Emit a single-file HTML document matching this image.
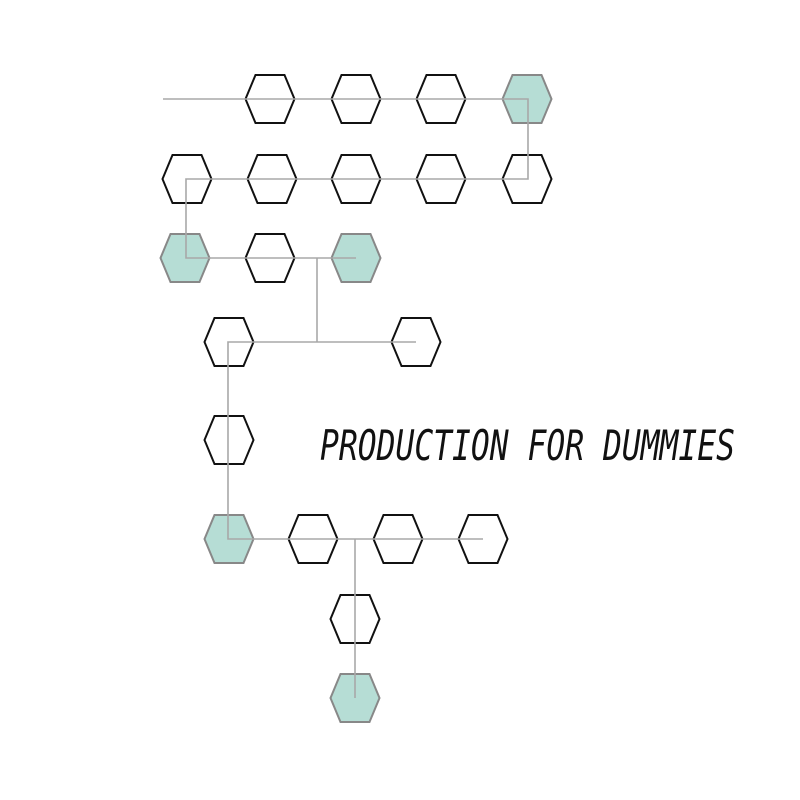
<!DOCTYPE html>
<html><head><meta charset="utf-8"><style>html,body{margin:0;padding:0;background:#fff}svg{display:block}</style></head>
<body>
<svg width="800" height="800" viewBox="0 0 800 800" xmlns="http://www.w3.org/2000/svg">
<defs>
<polygon id="h" points="-24.5,0 -14.5,-24 14.5,-24 24.5,0 14.5,24 -14.5,24"/>
</defs>
<g fill="none" stroke="#111" stroke-width="2">
<use href="#h" x="270" y="99"/><use href="#h" x="356" y="99"/><use href="#h" x="441" y="99"/>
<use href="#h" x="187" y="179"/><use href="#h" x="272" y="179"/><use href="#h" x="356" y="179"/><use href="#h" x="441" y="179"/><use href="#h" x="527" y="179"/>
<use href="#h" x="270" y="258"/>
<use href="#h" x="229" y="342"/><use href="#h" x="416" y="342"/>
<use href="#h" x="229" y="440"/>
<use href="#h" x="313" y="539"/><use href="#h" x="398" y="539"/><use href="#h" x="483" y="539"/>
<use href="#h" x="355" y="619"/>
</g>
<g fill="#b6ddd5" stroke="#888" stroke-width="2">
<use href="#h" x="527" y="99"/><use href="#h" x="185" y="258"/><use href="#h" x="356" y="258"/>
<use href="#h" x="229" y="539"/><use href="#h" x="355" y="698"/>
</g>
<g fill="none" stroke="#a8a8a8" stroke-width="1.6">
<polyline points="163,99 528,99 528,179 186,179 186,258 356,258"/>
<line x1="317" y1="258" x2="317" y2="342"/>
<polyline points="416,342 228,342 228,539 483,539"/>
<line x1="355" y1="539" x2="355" y2="698"/>
</g>
<text x="320" y="460" font-family="DejaVu Sans Mono, Liberation Mono, monospace" font-style="italic" font-size="42" textLength="415" lengthAdjust="spacingAndGlyphs" fill="#111">PRODUCTION FOR DUMMIES</text>
</svg>
</body></html>
